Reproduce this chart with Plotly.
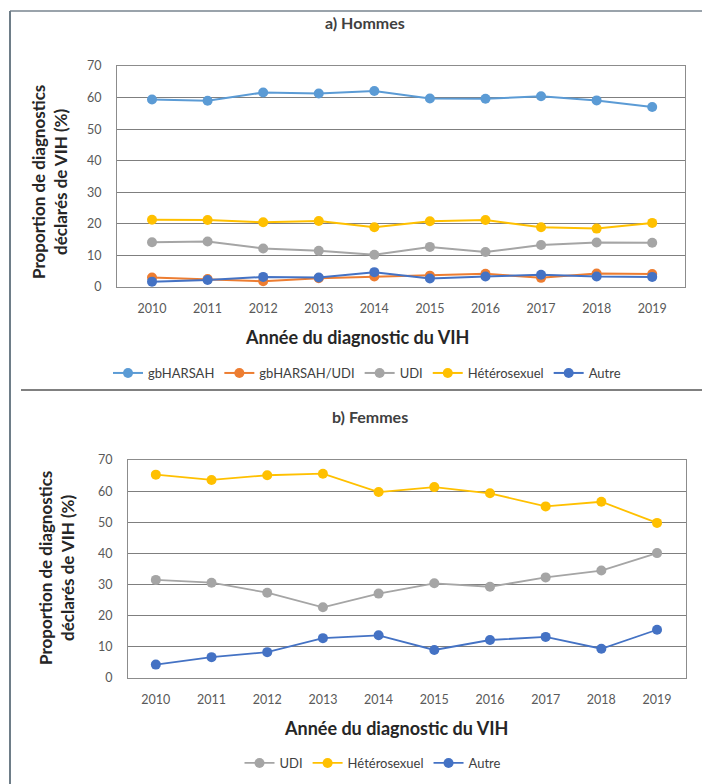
import plotly.graph_objects as go

W, H = 702, 784

years = ["2010", "2011", "2012", "2013", "2014", "2015", "2016", "2017", "2018", "2019"]

# a) Hommes
hommes_gbharsah = [59.4, 59.0, 61.6, 61.3, 62.1, 59.7, 59.6, 60.4, 59.1, 57.0]
hommes_gbharsah_udi = [3.0, 2.5, 1.8, 2.8, 3.3, 3.6, 4.2, 2.9, 4.3, 4.1]
hommes_udi = [14.2, 14.4, 12.2, 11.5, 10.2, 12.7, 11.1, 13.3, 14.1, 14.0]
hommes_hetero = [21.3, 21.2, 20.5, 20.9, 18.9, 20.8, 21.2, 18.9, 18.5, 20.3]
hommes_autre = [1.7, 2.2, 3.2, 3.0, 4.7, 2.7, 3.3, 3.9, 3.3, 3.2]

# b) Femmes
femmes_udi = [31.5, 30.6, 27.4, 22.7, 27.1, 30.4, 29.3, 32.3, 34.5, 40.1]
femmes_hetero = [65.3, 63.6, 65.1, 65.6, 59.7, 61.3, 59.3, 55.1, 56.6, 49.8]
femmes_autre = [4.3, 6.7, 8.3, 12.8, 13.7, 9.0, 12.2, 13.2, 9.4, 15.5]

y_ticks = [0, 10, 20, 30, 40, 50, 60, 70]

COL = {
    "gbHARSAH": "#5B9BD5",
    "gbHARSAH/UDI": "#ED7D31",
    "UDI": "#A5A5A5",
    "Hétérosexuel": "#FFC000",
    "Autre": "#4472C4",
}

FONT = "Lato, 'Open Sans', sans-serif"

def px(x):
    return x / W

def py(y):
    return 1 - y / H

fig = go.Figure()

top_series = [
    ("gbHARSAH", hommes_gbharsah),
    ("gbHARSAH/UDI", hommes_gbharsah_udi),
    ("UDI", hommes_udi),
    ("Hétérosexuel", hommes_hetero),
    ("Autre", hommes_autre),
]
for name, vals in top_series:
    fig.add_trace(go.Scatter(
        x=years, y=vals, name=name, mode="lines+markers",
        line=dict(color=COL[name], width=2),
        marker=dict(color=COL[name], size=10),
        xaxis="x", yaxis="y", legend="legend",
    ))

bottom_series = [
    ("UDI", femmes_udi),
    ("Hétérosexuel", femmes_hetero),
    ("Autre", femmes_autre),
]
for name, vals in bottom_series:
    fig.add_trace(go.Scatter(
        x=years, y=vals, name=name, mode="lines+markers",
        line=dict(color=COL[name], width=1.8),
        marker=dict(color=COL[name], size=10),
        xaxis="x2", yaxis="y2", legend="legend2",
    ))

tickfont = dict(family=FONT, size=12.5, color="#595959")
common_x = dict(type="category", showgrid=False, zeroline=False, showline=True,
                linecolor="#8c8c8c", linewidth=1.2, mirror=True,
                ticks="outside", ticklen=10, tickcolor="rgba(0,0,0,0)",
                tickfont=tickfont)
common_y = dict(range=[0, 70], tickvals=y_ticks, showgrid=True, gridcolor="#7f7f7f",
                gridwidth=1.2, zeroline=False, showline=True, linecolor="#8c8c8c",
                linewidth=1.2, mirror=True, ticks="outside", ticklen=12,
                tickcolor="rgba(0,0,0,0)", tickfont=tickfont)

fig.update_layout(
    width=W, height=H,
    margin=dict(l=0, r=0, t=0, b=0, autoexpand=False),
    paper_bgcolor="white", plot_bgcolor="white",
    font=dict(family=FONT, color="#404040"),
    xaxis=dict(domain=[px(117), px(685)], range=[-0.63, 9.59], anchor="y", **common_x),
    yaxis=dict(domain=[py(287), py(66)], anchor="x", **common_y),
    xaxis2=dict(domain=[px(128), px(686)], range=[-0.5, 9.52], anchor="y2", **common_x),
    yaxis2=dict(domain=[py(678), py(460)], anchor="x2", **common_y),
    legend=dict(orientation="h", x=px(367), xanchor="center", y=py(373), yanchor="middle",
                font=dict(family=FONT, size=13, color="#404040"), bgcolor="rgba(0,0,0,0)",
                itemwidth=30, tracegroupgap=0),
    legend2=dict(orientation="h", x=px(373), xanchor="center", y=py(763), yanchor="middle",
                 font=dict(family=FONT, size=13, color="#404040"), bgcolor="rgba(0,0,0,0)",
                 itemwidth=30, tracegroupgap=0),
    showlegend=True,
)

def note(text, x, y, size, color, angle=0):
    return dict(text=text, x=px(x), y=py(y), xref="paper", yref="paper",
                xanchor="center", yanchor="middle", showarrow=False, textangle=angle,
                font=dict(family=FONT, size=size, color=color))

ytitle = "<b>Proportion de diagnostics<br>déclarés de VIH (%)</b>"
xtitle = "<b>Année du diagnostic du VIH</b>"
ann = [
    note("<b>a) Hommes</b>", 365, 23, 16, "#404040"),
    note("<b>b) Femmes</b>", 370, 416, 16, "#404040"),
    note(ytitle, 49, 182, 17, "#262626", -90),
    note(ytitle, 56, 568, 17, "#262626", -90),
    note(xtitle, 357, 337, 18, "#262626"),
    note(xtitle, 396, 728, 18, "#262626"),
]
fig.update_layout(annotations=ann)

shapes = [
    dict(type="line", xref="paper", yref="paper", x0=px(10), x1=1, y0=py(11), y1=py(11),
         line=dict(color="#9aa3ab", width=2)),
    dict(type="line", xref="paper", yref="paper", x0=px(10), x1=px(10), y0=py(11), y1=0,
         line=dict(color="#6e7d88", width=2)),
    dict(type="line", xref="paper", yref="paper", x0=px(21), x1=1, y0=py(390), y1=py(390),
         line=dict(color="#808080", width=2)),
]
fig.update_layout(shapes=shapes)

fig.write_html("out.html", config={"displayModeBar": False},
               post_script="document.body.style.margin='0';document.body.style.padding='0';")
